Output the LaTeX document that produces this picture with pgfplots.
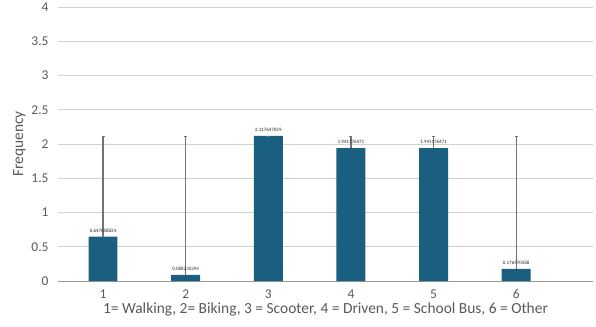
\documentclass[border=0pt]{standalone}
\usepackage{pgfplots}
\pgfplotsset{compat=1.18}
\usepackage{fontspec}
\setmainfont{Carlito}
\definecolor{barc}{RGB}{26,94,128}
\definecolor{txt}{RGB}{89,89,89}
\definecolor{grid}{RGB}{210,210,210}
\begin{document}
\begin{tikzpicture}[x=1bp,y=1bp]
\useasboundingbox (0,0) rectangle (596,326);
\begin{axis}[
  at={(58bp,45bp)}, anchor=south west,
  scale only axis, width=535bp, height=274bp,
  xmin=0.455, xmax=6.93, ymin=0, ymax=4,
  ytick={0,0.5,...,4},
  xtick={1,2,3,4,5,6},
  axis line style={draw=none},
  axis x line*=bottom,
  extra y ticks={0},
  extra y tick style={grid style={draw=black!40, line width=0.9pt}, yticklabels={}},
  ymajorgrids, grid style={draw=grid, line width=0.9pt},
  major tick length=0pt,
  ticklabel style={font=\fontsize{13.5}{14}\selectfont, text=txt},
  yticklabel style={/pgf/number format/assume math mode=true, xshift=-6bp},
  xticklabel style={/pgf/number format/assume math mode=true, yshift=-5bp},
  ylabel={Frequency}, ylabel style={font=\fontsize{15.5}{16}\selectfont, text=txt, yshift=-1bp},
  xlabel={1= Walking, 2= Biking, 3 = Scooter, 4 = Driven, 5 = School Bus, 6 = Other},
  xlabel style={font=\fontsize{15.5}{16}\selectfont, text=txt, yshift=3bp, xshift=0bp},
  clip=false,
]
\addplot[ybar, bar width=0.35, fill=barc, draw=none,
  error bars/.cd, y dir=plus, y explicit,
  error bar style={draw=black!55, line width=1.2pt},
  error mark options={draw=black!55, mark size=1.5pt, rotate=90}]
  table[x=x, y=y, y error=e] {
x y e
1 0.647058824 1.470588235
2 0.088235294 2.029411765
3 2.117647059 0.0
4 1.941176471 0.176470588
5 1.941176471 0.176470588
6 0.176470588 1.941176471
};
\addplot[only marks, mark=none,
  nodes near coords, point meta=explicit symbolic,
  every node near coord/.append style={font=\fontsize{5}{5}\selectfont, text=black!85, anchor=south, yshift=0.5bp}]
  table[x=x, y=y, meta=l] {
x y l
1 0.647058824 0.647058824
2 0.088235294 0.088235294
3 2.117647059 2.117647059
4 1.941176471 1.941176471
5 1.941176471 1.941176471
6 0.176470588 0.176470588
};
\end{axis}
\end{tikzpicture}
\end{document}
